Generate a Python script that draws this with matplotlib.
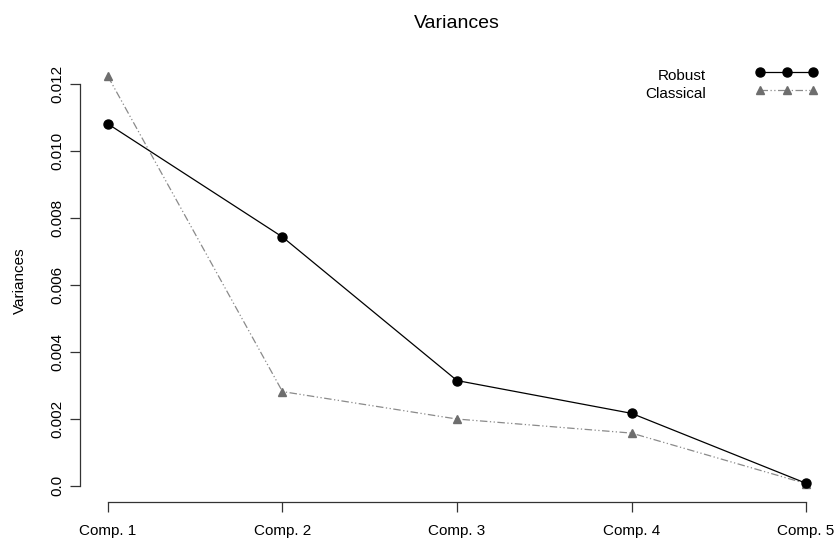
import matplotlib
matplotlib.use("Agg")
import matplotlib.pyplot as plt
import numpy as np

plt.rcParams['font.family'] = ['Liberation Sans', 'DejaVu Sans']

components = ["Comp. 1", "Comp. 2", "Comp. 3", "Comp. 4", "Comp. 5"]
robust = [0.01081, 0.00743, 0.00314, 0.00216, 0.00007]
classical = [0.01223, 0.00281, 0.00199, 0.00157, 0.00006]
yticks = [0.0, 0.002, 0.004, 0.006, 0.008, 0.010, 0.012]
ytick_labels = ["0.0", "0.002", "0.004", "0.006", "0.008", "0.010", "0.012"]

W, H = 839, 539
FS = 11
fig = plt.figure(figsize=(W / 100, H / 100), dpi=100)
ax = fig.add_axes([80 / W, 1 - 502 / H, (834 - 80) / W, (502 - 60) / H])

x = np.arange(1, len(components) + 1)
ymax = max(max(robust), max(classical))
pad_y = 0.04 * ymax
ax.set_xlim(1 - 0.16, len(components) + 0.16)
ax.set_ylim(0 - pad_y, ymax + pad_y)

grey = "#6e6e6e"
ax.plot(x, classical, color="#8a8a8a", lw=0.9, dashes=(6, 2, 1, 2, 1, 2),
        marker="^", ms=6, mfc=grey, mec=grey, label="Classical", zorder=2)
ax.plot(x, robust, color="black", lw=0.9, marker="o", ms=6.5,
        mfc="black", mec="black", label="Robust", zorder=3)

for s in ["top", "right"]:
    ax.spines[s].set_visible(False)
ax.spines["left"].set_bounds(0, 0.012)
ax.spines["bottom"].set_bounds(1, len(components))
for s in ["left", "bottom"]:
    ax.spines[s].set_color("#333333")
    ax.spines[s].set_linewidth(0.9)

ax.set_xticks(x)
ax.set_xticklabels(components, fontsize=FS)
ax.set_yticks(yticks)
ax.set_yticklabels(ytick_labels, fontsize=FS, rotation=90, va="center")
ax.tick_params(axis="both", length=7, width=0.9, color="#333333")
ax.tick_params(axis="x", pad=9)
ax.tick_params(axis="y", pad=4)

ax.set_ylabel("Variances", fontsize=FS)
ax.yaxis.set_label_coords(-(80 - 27) / (834 - 80), 0.5)
fig.text(457 / W, 1 - 28 / H, "Variances", ha="center", va="baseline", fontsize=14)

# legend drawn manually in R style: labels right-aligned, samples to the right
leg_text_y = [76.5, 94]
leg_mark_y = [72, 89.5]
leg_labels = ["Robust", "Classical"]
for yy, lab in zip(leg_text_y, leg_labels):
    fig.text(706 / W, 1 - yy / H, lab, ha="right", va="center", fontsize=FS)
lx = np.array([760, 786.5, 813]) / W
fig.add_artist(plt.Line2D(lx, [1 - leg_mark_y[0] / H] * 3, color="black", lw=0.9,
                          marker="o", ms=6.5, mfc="black", mec="black"))
fig.add_artist(plt.Line2D(lx, [1 - leg_mark_y[1] / H] * 3, color="#8a8a8a", lw=0.9,
                          dashes=(6, 2, 1, 2, 1, 2), marker="^", ms=6,
                          mfc=grey, mec=grey))

fig.savefig("out.png", dpi=100)
